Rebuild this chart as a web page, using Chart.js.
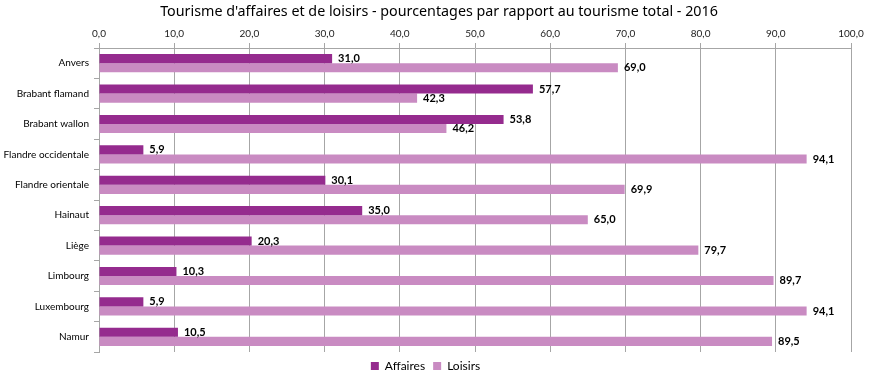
<!DOCTYPE html>
<html><head><meta charset="utf-8">
<script src="https://cdn.jsdelivr.net/npm/chart.js@4/dist/chart.umd.min.js"></script>
<style>html,body{margin:0;padding:0;background:#fff}#wrap{width:890px;height:382px}</style>
</head><body><div id="wrap"><canvas id="c" width="890" height="382"></canvas></div>
<script>
const chartTitle = "Tourisme d'affaires et de loisirs - pourcentages par rapport au tourisme total - 2016";
const categories = ['Anvers','Brabant flamand','Brabant wallon','Flandre occidentale','Flandre orientale','Hainaut','Liège','Limbourg','Luxembourg','Namur'];
const affaires = [31.0,57.7,53.8,5.9,30.1,35.0,20.3,10.3,5.9,10.5];
const loisirs = [69.0,42.3,46.2,94.1,69.9,65.0,79.7,89.7,94.1,89.5];
const seriesNames = ['Affaires','Loisirs'];
const fmt = v => Number(v).toFixed(1).replace('.', ',');

const labelPlugin = {
  id: 'barLabels',
  afterDatasetsDraw(chart) {
    const ctx = chart.ctx;
    ctx.save();
    ctx.font = 'bold 11px Lato, "Open Sans", sans-serif';
    ctx.fillStyle = '#000';
    ctx.textBaseline = 'middle';
    ctx.textAlign = 'left';
    chart.data.datasets.forEach((ds, i) => {
      chart.getDatasetMeta(i).data.forEach((el, j) => {
        ctx.fillText(fmt(ds.data[j]), el.x + 6, el.y);
      });
    });
    ctx.restore();
  },
  afterDraw(chart) {
    const ctx = chart.ctx;
    ctx.save();
    ctx.font = '14.3px "Noto Sans", sans-serif';
    ctx.fillStyle = '#000';
    ctx.textAlign = 'center';
    ctx.textBaseline = 'middle';
    ctx.fillText(chartTitle, 439, 12);
    ctx.restore();
  }
};

new Chart(document.getElementById('c'), {
  type: 'bar',
  data: {
    labels: categories,
    datasets: [
      { label: seriesNames[0], data: affaires, backgroundColor: '#952B8E', categoryPercentage: 0.6, barPercentage: 1.0 },
      { label: seriesNames[1], data: loisirs, backgroundColor: '#C98BC2', categoryPercentage: 0.6, barPercentage: 1.0 }
    ]
  },
  options: {
    indexAxis: 'y',
    responsive: false,
    animation: false,
    layout: { padding: { left: 0, right: 39, top: 26, bottom: 0 } },
    plugins: {
      title: { display: false },
      tooltip: { enabled: false },
      legend: {
        position: 'bottom',
        labels: { boxWidth: 8, boxHeight: 8, padding: 8, color: '#000', font: { size: 12, family: 'Lato, "Open Sans", sans-serif' } }
      }
    },
    scales: {
      x: {
        position: 'top',
        min: 0, max: 100,
        ticks: { stepSize: 10, padding: 3, color: '#222', font: { size: 10, family: 'Lato, "Open Sans", sans-serif' }, callback: v => fmt(v), maxRotation: 0 },
        grid: { color: '#A6A6A6', tickLength: 5, lineWidth: 1 },
        border: { color: '#A6A6A6' },
        afterFit: s => { s.height = 22; }
      },
      y: {
        ticks: { padding: 5, color: '#000', font: { size: 10, family: 'Lato, "Open Sans", sans-serif' } },
        grid: { drawOnChartArea: false, color: '#A6A6A6', tickLength: 5 },
        border: { color: '#A6A6A6' },
        afterFit: s => { s.width = 99; }
      }
    }
  },
  plugins: [labelPlugin]
});
</script></body></html>
